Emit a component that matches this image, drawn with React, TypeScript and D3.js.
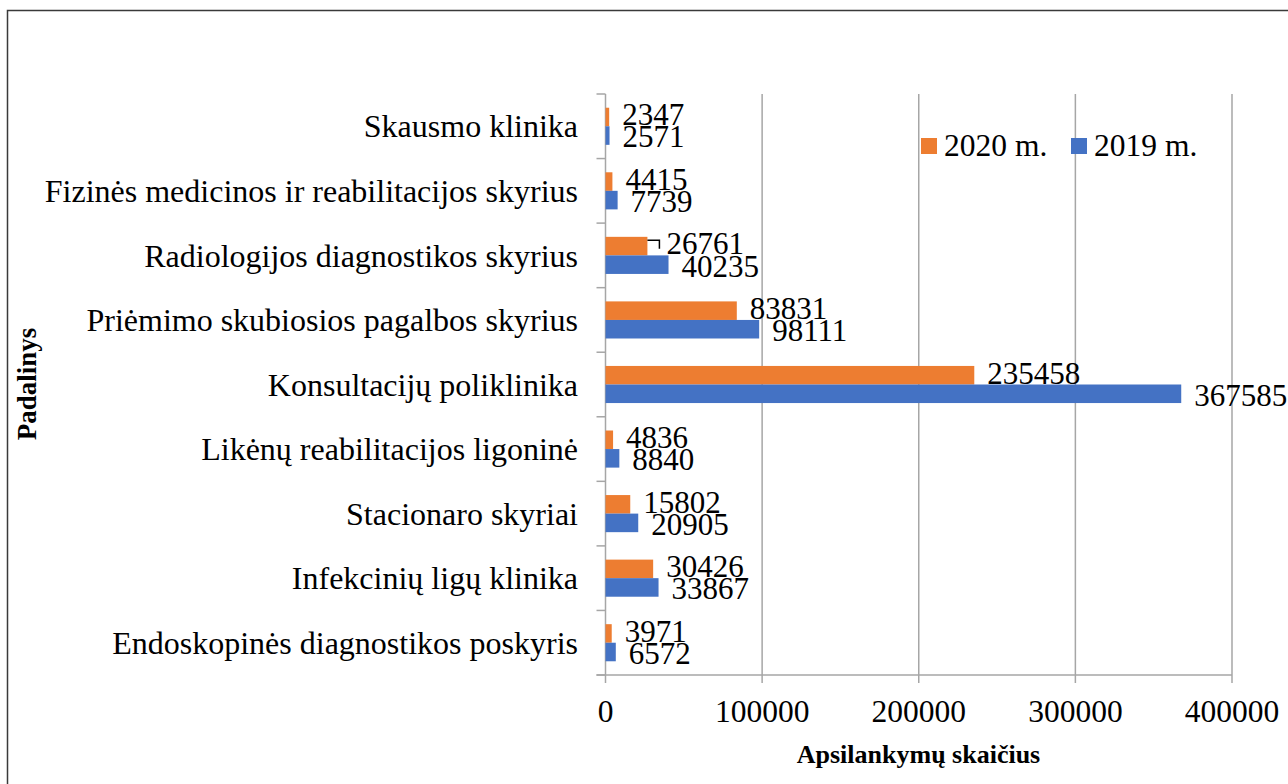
import React, { useEffect, useRef } from "react";
import * as d3 from "d3";

const categories = [
  "Skausmo klinika",
  "Fizinės medicinos ir reabilitacijos skyrius",
  "Radiologijos diagnostikos skyrius",
  "Priėmimo skubiosios pagalbos skyrius",
  "Konsultacijų poliklinika",
  "Likėnų reabilitacijos ligoninė",
  "Stacionaro skyriai",
  "Infekcinių ligų klinika",
  "Endoskopinės diagnostikos poskyris",
];
const values2020 = [2347, 4415, 26761, 83831, 235458, 4836, 15802, 30426, 3971];
const values2019 = [2571, 7739, 40235, 98111, 367585, 8840, 20905, 33867, 6572];
const seriesNames = ["2020 m.", "2019 m."];
const seriesColors = ["#ED7D31", "#4472C4"];
const xTicks = [0, 100000, 200000, 300000, 400000];

const App = () => {
  const ref = useRef<SVGSVGElement>(null);

  useEffect(() => {
    const svg = d3.select(ref.current);
    svg.selectAll("*").remove();

    const width = 1288;
    const height = 784;
    const font = "'Liberation Serif', 'Times New Roman', serif";
    const left = 605.5;
    const right = 1232;
    const top = 94;
    const bottom = 675;

    svg.attr("width", width).attr("height", height);

    // chart border
    svg
      .append("rect")
      .attr("x", 7.5)
      .attr("y", 10.5)
      .attr("width", 1300)
      .attr("height", 800)
      .attr("fill", "none")
      .attr("stroke", "#3a3a3a")
      .attr("stroke-width", 1.5);

    const x = d3.scaleLinear().domain([0, 400000]).range([left, right]);
    const y = d3.scaleBand().domain(categories).range([top, bottom]).padding(0);
    const ys = d3
      .scaleBand()
      .domain(seriesNames)
      .range([0, y.bandwidth()])
      .paddingInner(0)
      .paddingOuter(0.74);

    // gridlines + ticks
    svg
      .append("g")
      .selectAll("line")
      .data(xTicks)
      .enter()
      .append("line")
      .attr("x1", (d) => x(d))
      .attr("x2", (d) => x(d))
      .attr("y1", top)
      .attr("y2", bottom + 8)
      .attr("stroke", "#a6a6a6")
      .attr("stroke-width", 1.5);

    // bottom axis line
    svg
      .append("line")
      .attr("x1", left - 9)
      .attr("x2", right)
      .attr("y1", bottom)
      .attr("y2", bottom)
      .attr("stroke", "#a6a6a6")
      .attr("stroke-width", 1.5);

    // category ticks
    const bounds = categories.map((c) => y(c) as number).concat([bottom]);
    svg
      .append("g")
      .selectAll("line")
      .data(bounds)
      .enter()
      .append("line")
      .attr("x1", left - 9)
      .attr("x2", left)
      .attr("y1", (d) => d)
      .attr("y2", (d) => d)
      .attr("stroke", "#a6a6a6")
      .attr("stroke-width", 1.5);

    // x tick labels
    svg
      .append("g")
      .selectAll("text")
      .data(xTicks)
      .enter()
      .append("text")
      .attr("x", (d) => x(d))
      .attr("y", 722)
      .attr("text-anchor", "middle")
      .attr("font-family", font)
      .attr("font-size", 31.5)
      .text((d) => String(d));

    // category labels
    svg
      .append("g")
      .selectAll("text")
      .data(categories)
      .enter()
      .append("text")
      .attr("x", 578)
      .attr("y", (d) => (y(d) as number) + y.bandwidth() / 2)
      .attr("dy", "0.35em")
      .attr("text-anchor", "end")
      .attr("font-family", font)
      .attr("font-size", 32)
      .text((d) => d);

    const rows = categories.map((c, i) => ({ c, vals: [values2020[i], values2019[i]] }));

    const groups = svg
      .append("g")
      .selectAll("g")
      .data(rows)
      .enter()
      .append("g")
      .attr("transform", (d) => `translate(0,${y(d.c)})`);

    seriesNames.forEach((s, si) => {
      groups
        .append("rect")
        .attr("x", x(0))
        .attr("y", ys(s) as number)
        .attr("width", (d) => x(d.vals[si]) - x(0))
        .attr("height", ys.bandwidth())
        .attr("fill", seriesColors[si]);
    });

    seriesNames.forEach((s, si) => {
      groups
        .append("text")
        .attr("x", (d) => x(d.vals[si]) + (d.c === "Radiologijos diagnostikos skyrius" && si === 0 ? 19 : 13))
        .attr("y", (ys(s) as number) + ys.bandwidth() / 2 + (si === 0 ? -2.5 : 1))
        .attr("dy", "0.35em")
        .attr("font-family", font)
        .attr("font-size", 31)
        .text((d) => String(d.vals[si]));
    });

    // leader line for the shifted label
    const ri = categories.indexOf("Radiologijos diagnostikos skyrius");
    const ly = (y(categories[ri]) as number) + (ys(seriesNames[0]) as number) + 3;
    const lx = x(values2020[ri]);
    svg
      .append("path")
      .attr("d", `M${lx},${ly + 0.5} H${lx + 12} V${ly + 9}`)
      .attr("fill", "none")
      .attr("stroke", "#000")
      .attr("stroke-width", 1.5);

    // legend
    const legend = svg.append("g");
    const legendX = [921, 1071];
    seriesNames.forEach((s, i) => {
      legend
        .append("rect")
        .attr("x", legendX[i])
        .attr("y", 138)
        .attr("width", 16)
        .attr("height", 16)
        .attr("fill", seriesColors[i]);
      legend
        .append("text")
        .attr("x", legendX[i] + 23)
        .attr("y", 156)
        .attr("font-family", font)
        .attr("font-size", 31.5)
        .text(s);
    });

    // axis titles
    svg
      .append("text")
      .attr("x", 918.5)
      .attr("y", 763)
      .attr("text-anchor", "middle")
      .attr("font-family", font)
      .attr("font-size", 26)
      .attr("font-weight", "bold")
      .text("Apsilankymų skaičius");

    svg
      .append("text")
      .attr("transform", "translate(36,384) rotate(-90)")
      .attr("text-anchor", "middle")
      .attr("font-family", font)
      .attr("font-size", 27)
      .attr("font-weight", "bold")
      .text("Padalinys");
  }, []);

  return <svg ref={ref} style={{ position: "absolute", left: 0, top: 0 }}></svg>;
};

export default App;
